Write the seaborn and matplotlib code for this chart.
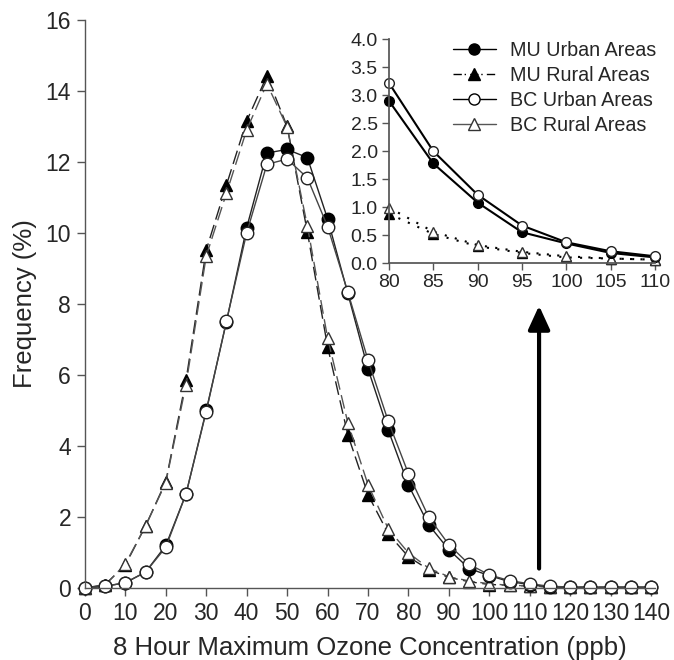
import numpy as np
import pandas as pd
import matplotlib
matplotlib.use("Agg")
import matplotlib.pyplot as plt
import seaborn as sns
from matplotlib.lines import Line2D

# ---- data ----
ozone = [0, 5, 10, 15, 20, 25, 30, 35, 40, 45, 50, 55, 60, 65, 70,
         75, 80, 85, 90, 95, 100, 105, 110, 115, 120, 125, 130, 135, 140]
mu_urban = [0.0, 0.05, 0.15, 0.45, 1.2, 2.65, 5.0, 7.5, 10.15, 12.25, 12.35, 12.12, 10.4, 8.3, 6.17,
            4.45, 2.9, 1.78, 1.08, 0.55, 0.35, 0.18, 0.1, 0.04, 0.02, 0.02, 0.02, 0.02, 0.02]
bc_urban = [0.0, 0.05, 0.15, 0.45, 1.15, 2.65, 4.97, 7.52, 10.0, 11.93, 12.08, 11.55, 10.18, 8.34, 6.42,
            4.7, 3.22, 2.0, 1.22, 0.67, 0.37, 0.21, 0.12, 0.05, 0.03, 0.02, 0.02, 0.02, 0.02]
mu_rural = [0.0, 0.1, 0.65, 1.75, 3.0, 5.85, 9.52, 11.35, 13.15, 14.42, 13.0, 10.03, 6.8, 4.32, 2.63,
            1.53, 0.88, 0.52, 0.3, 0.18, 0.1, 0.08, 0.06, 0.03, 0.02, 0.02, 0.02, 0.02, 0.02]
bc_rural = [0.0, 0.08, 0.68, 1.75, 2.97, 5.73, 9.35, 11.12, 12.9, 14.2, 12.98, 10.2, 7.05, 4.66, 2.91,
            1.67, 0.99, 0.56, 0.32, 0.2, 0.12, 0.08, 0.06, 0.03, 0.02, 0.02, 0.02, 0.02, 0.02]
labels = ["MU Urban Areas", "MU Rural Areas", "BC Urban Areas", "BC Rural Areas"]
main_xticks = list(range(0, 141, 10))
main_yticks = list(range(0, 17, 2))
inset_xticks = [80, 85, 90, 95, 100, 105, 110]
inset_yticks = [0.0, 0.5, 1.0, 1.5, 2.0, 2.5, 3.0, 3.5, 4.0]
arrow_x = 112.3
arrow_y0, arrow_y1 = 0.55, 7.95

sns.set_theme(style="ticks")
plt.rcParams['font.family'] = ['Liberation Sans', 'DejaVu Sans']

df = pd.DataFrame({"x": ozone, "mu_u": mu_urban, "bc_u": bc_urban,
                   "mu_r": mu_rural, "bc_r": bc_rural})

fig = plt.figure(figsize=(6.74, 6.6), dpi=100)
ax = fig.add_axes([0.126, 0.109, 0.846, 0.861])

styles = {
    "mu_u": dict(marker="o", mfc="black", mec="black", ls="-", color="#222222", lw=1.0),
    "bc_u": dict(marker="o", mfc="white", mec="#222222", ls="-", color="#444444", lw=1.0),
    "mu_r": dict(marker="^", mfc="black", mec="black", ls=(0, (10, 4)), color="#222222", lw=1.0),
    "bc_r": dict(marker="^", mfc="white", mec="#333333", ls=(0, (10, 4)), color="#555555", lw=1.0),
}
for key in ["mu_r", "bc_r", "mu_u", "bc_u"]:
    s = styles[key]
    sns.lineplot(data=df, x="x", y=key, ax=ax, color=s["color"], linewidth=s["lw"],
                 linestyle=s["ls"], marker=s["marker"], markersize=9,
                 markerfacecolor=s["mfc"], markeredgecolor=s["mec"], markeredgewidth=1.0)

ax.set_xlim(0, 141)
ax.set_ylim(0, 16)
ax.set_xticks(main_xticks)
ax.set_yticks(main_yticks)
ax.tick_params(axis="both", labelsize=16.5, direction="out", length=6, width=1, color="#555555", pad=4)
for sp in ["top", "right"]:
    ax.spines[sp].set_visible(False)
for sp in ["left", "bottom"]:
    ax.spines[sp].set_color("#555555")
    ax.spines[sp].set_linewidth(1)
ax.set_xlabel("8 Hour Maximum Ozone Concentration (ppb)", fontsize=18.5, labelpad=8)
ax.set_ylabel("Frequency (%)", fontsize=18.5, labelpad=6)
for ln in ax.lines:
    ln.set_clip_on(False)

ax.annotate("", xy=(arrow_x, arrow_y1), xytext=(arrow_x, arrow_y0),
            arrowprops=dict(arrowstyle="-|>,head_length=1.2,head_width=0.55",
                            color="black", lw=3, shrinkA=0, shrinkB=0))

# ---- inset ----
ins = fig.add_axes([0.577, 0.6015, 0.395, 0.339])
sub = df[(df["x"] >= 80) & (df["x"] <= 110)]
istyles = {
    "mu_u": dict(ls="-", lw=1.5),
    "bc_u": dict(ls="-", lw=1.5),
    "mu_r": dict(ls=(0, (1, 4)), lw=1.5),
    "bc_r": dict(ls=(0, (1, 4)), lw=1.5),
}
for key in ["mu_r", "bc_r", "mu_u", "bc_u"]:
    s = styles[key]
    sns.lineplot(data=sub, x="x", y=key, ax=ins, color="black", linewidth=istyles[key]["lw"],
                 linestyle=istyles[key]["ls"], marker=s["marker"], markersize=7,
                 markerfacecolor=s["mfc"], markeredgecolor=s["mec"], markeredgewidth=1.0)
for ln in ins.lines:
    ln.set_clip_on(False)
ins.set_xlim(80, 110)
ins.set_ylim(0, 4)
ins.set_xticks(inset_xticks)
ins.set_yticks(inset_yticks)
ins.set_yticklabels([f"{v:.1f}" for v in inset_yticks])
ins.set_xlabel("")
ins.set_ylabel("")
ins.tick_params(axis="both", labelsize=14, direction="out", length=5, width=1, color="#555555", pad=3)
for sp in ["top", "right"]:
    ins.spines[sp].set_visible(False)
for sp in ["left", "bottom"]:
    ins.spines[sp].set_color("#555555")
ins.patch.set_alpha(0)

handles = [
    Line2D([], [], color="black", lw=1.0, marker="o", mfc="black", mec="black", ms=8),
    Line2D([], [], color="black", lw=1.0, ls=(0, (6, 2, 1, 3)), marker="^", mfc="black", mec="black", ms=8),
    Line2D([], [], color="black", lw=1.0, marker="o", mfc="white", mec="black", ms=8),
    Line2D([], [], color="#555555", lw=1.0, marker="^", mfc="white", mec="#333333", ms=8),
]
ins.legend(handles, labels, loc="upper right", bbox_to_anchor=(1.07, 1.07), frameon=False,
           fontsize=14.2, handlelength=2.2, handletextpad=0.7, labelspacing=0.3)

fig.savefig("out.png", dpi=100)
